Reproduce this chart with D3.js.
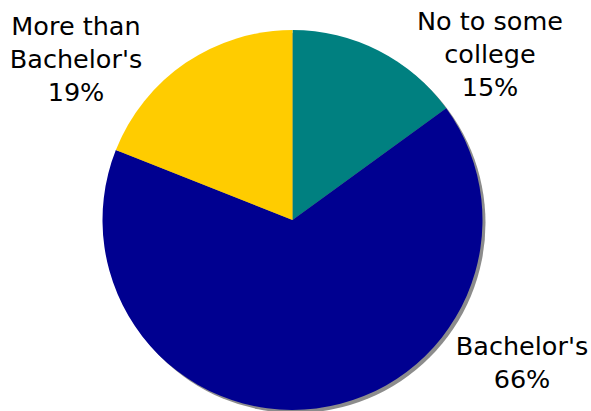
<!DOCTYPE html>
<html>
<head>
<meta charset="utf-8">
<script src="https://cdn.jsdelivr.net/npm/d3@7"></script>
<style>
body { margin: 0; background: #fff; }
text { font-family: "DejaVu Sans", Verdana, sans-serif; font-size: 25.5px; fill: #000; }
</style>
</head>
<body>
<div id="chart"></div>
<script>
// data
var categories = ["No to some college", "Bachelor's", "More than Bachelor's"];
var values = [15, 66, 19];
var colors = ["#008080", "#000090", "#ffcc00"];
// label anchor (centre, baseline of first line), relative to svg
var labelPos = [[490, 30], [522, 355], [76, 35]];

var width = 591, height = 411;
var cx = 292.5, cy = 220, radius = 190;

var svg = d3.select("#chart")
	.append("svg")
	.attr("width", width)
	.attr("height", height);

var pie = d3.pie().sort(null).value(function(d) { return d; });
var arc = d3.arc().innerRadius(0).outerRadius(radius);
var arcs = pie(values);

var g = svg.append("g")
	.attr("transform", "translate(" + cx + ", " + cy + ")");

// shadow
g.append("circle")
	.attr("cx", 3)
	.attr("cy", 3)
	.attr("r", radius)
	.attr("fill", "#8c8c8c");

g.selectAll("path.slice")
	.data(arcs)
	.enter()
	.append("path")
	.attr("class", "slice")
	.attr("d", arc)
	.attr("fill", function(d, i) { return colors[i]; });

var labels = svg.selectAll("text.lbl")
	.data(arcs)
	.enter()
	.append("text")
	.attr("class", "lbl")
	.attr("text-anchor", "middle")
	.attr("transform", function(d, i) {
		return "translate(" + labelPos[i][0] + ", " + labelPos[i][1] + ")";
	});

labels.each(function(d, i) {
	var lines;
	if (i === 0) lines = ["No to some", "college"];
	else if (i === 2) lines = ["More than", "Bachelor's"];
	else lines = [categories[i]];
	lines.push(values[i] + "%");
	var t = d3.select(this);
	lines.forEach(function(s, k) {
		t.append("tspan")
			.attr("x", 0)
			.attr("y", k * 33)
			.text(s);
	});
});
</script>
</body>
</html>
